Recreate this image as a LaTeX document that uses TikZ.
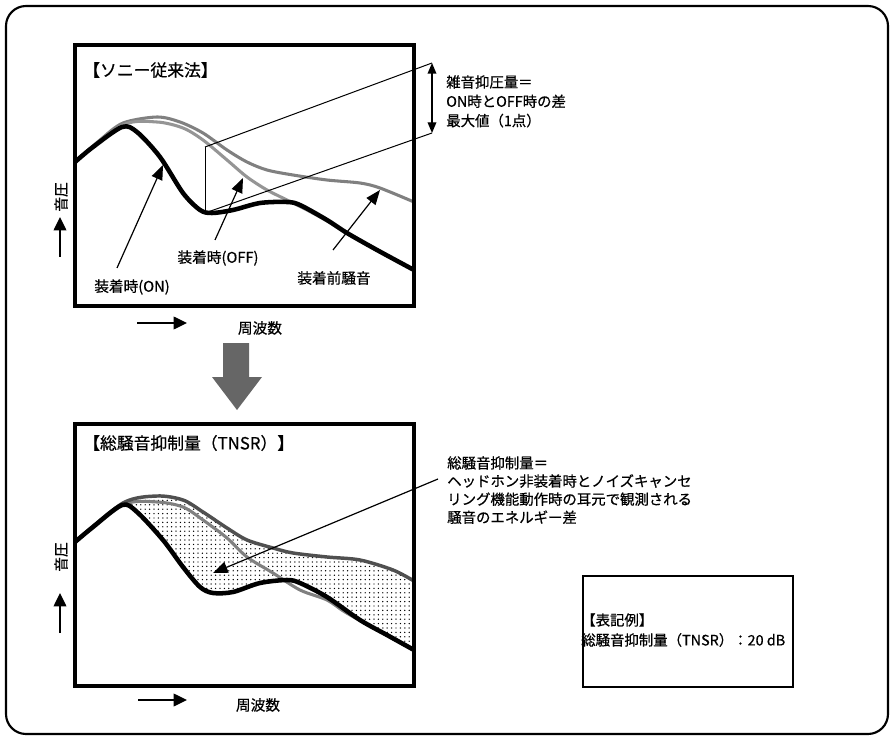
\documentclass[tikz,border=0pt]{standalone}
\usepackage{fontspec}
\setmainfont{Noto Sans CJK JP}[FakeBold=0.6]
\usetikzlibrary{arrows.meta,patterns.meta}
\definecolor{beforecol}{HTML}{808080}
\definecolor{offcol}{HTML}{959595}
\definecolor{beforecolB}{HTML}{505050}
\definecolor{offcolB}{HTML}{808080}
\definecolor{bigarrow}{HTML}{666666}
\tikzdeclarepattern{
  name=noisedots,
  type=uncolored,
  bottom left={(-1pt,-1pt)},
  top right={(1pt,1pt)},
  tile size={(3.3pt,3.3pt)},
  code={\fill (0pt,0pt) circle (0.55pt);}
}
\begin{document}
\begin{tikzpicture}[x=0.75pt,y=-0.75pt,
  frame/.style={line width=2.6pt},
  oncurve/.style={line width=3.4pt,black,line join=round},
  grayline/.style={line width=2.3pt,line join=round},
  thin/.style={line width=0.75pt},
  leader/.style={line width=0.9pt,-{Triangle[length=11pt,width=8.5pt]}},
  axisarrow/.style={line width=1.1pt,-{Triangle[length=10pt,width=9.5pt]}},
  dbl/.style={line width=1pt,{Triangle[length=8pt,width=6.5pt]}-{Triangle[length=8pt,width=6.5pt]}},
  lbl/.style={inner sep=0pt,font=\fontsize{11pt}{13pt}\selectfont},
  head/.style={inner sep=0pt,anchor=west,font=\fontsize{12.6pt}{14pt}\selectfont},
  note/.style={inner sep=0pt,anchor=north west,align=left},
]
\useasboundingbox (0,0) rectangle (893,738);
% outer frame
\draw[line width=1.6pt,rounded corners=15pt] (6,6) rectangle (888,734);

%================ TOP PANEL ================
\draw[grayline,beforecol] plot[smooth] coordinates {(75,162) (100,140) (123,123) (157,117) (180,122) (203,133) (227,150) (247,162) (267,170) (293,175) (327,180) (360,183) (380,188) (414,202)};
\draw[grayline,offcol] plot[smooth] coordinates {(75,162) (123,125) (157,122) (183,128) (203,140) (227,160) (247,177) (267,190) (287,200) (307,210) (327,221) (345,232) (377,250) (414,270)};
\draw[oncurve] plot[smooth] coordinates {(75,162) (93,147) (122,127) (137,132) (160,157) (183,193) (200,210) (212,213) (233,210) (260,203) (287,202) (300,205) (327,220) (347,233) (377,250) (414,270)};
\draw[frame] (75,45) rectangle (414,306);

\node[head] (title1) at (83,70) {【ソニー従来法】};

% difference lines
\coordinate (dTop) at (205,147);
\coordinate (dBot) at (205,213);
\coordinate (rTop) at (432,63);
\coordinate (rBot) at (432,133);
\draw[thin] (dTop) -- (dBot);
\draw[thin] (dTop) -- (rTop);
\draw[thin] (dBot) -- (rBot);
\draw[dbl] (rTop) -- (rBot);
\node[note,font=\fontsize{10.8pt}{14.5pt}\selectfont] (diffnote) at (446,75) {雑音抑圧量＝\\ON時とOFF時の差\\最大値（1点）};

% labels and leaders
\node[lbl] (onlbl) at (132,287) {装着時(ON)};
\node[lbl] (offlbl) at (218,258) {装着時(OFF)};
\node[lbl] (prelbl) at (334,278) {装着前騒音};
\coordinate (onTail) at (117,268);
\coordinate (onTip) at (163,165);
\coordinate (offTail) at (215,240);
\coordinate (offTip) at (243,178);
\coordinate (preTail) at (333,250);
\coordinate (preTip) at (380,190);
\draw[leader] (onTail) -- (onTip);
\draw[leader] (offTail) -- (offTip);
\draw[leader] (preTail) -- (preTip);

% axes
\node[lbl,rotate=90] (ylbl1) at (61,197) {音圧};
\coordinate (ya1) at (60,257);
\coordinate (yb1) at (60,217);
\draw[axisarrow] (ya1) -- (yb1);
\coordinate (xa1) at (137,323);
\coordinate (xb1) at (187,323);
\draw[axisarrow] (xa1) -- (xb1);
\node[lbl] (xlbl1) at (260,328) {周波数};

% big down arrow
\fill[bigarrow] (223,343) -- (249,343) -- (249,377) -- (262,377) -- (237,410) -- (212,377) -- (223,377) -- cycle;

%================ BOTTOM PANEL ================
\fill[pattern=noisedots] plot[smooth] coordinates {(75,542) (123,503) (157,496) (183,500) (203,512) (227,528) (247,540) (273,548) (293,553) (327,557) (360,560) (393,570) (414,581)}
 -- plot[smooth] coordinates {(414,650) (387,635) (360,620) (327,597) (300,583) (287,580) (260,583) (233,592) (213,593) (200,587) (183,567) (163,540) (137,512) (122,505) (93,527) (75,542)} -- cycle;
\draw[grayline,offcolB] plot[smooth] coordinates {(75,542) (123,505) (157,502) (183,507) (203,520) (227,538) (247,557) (273,573) (300,590) (327,600) (345,612) (377,630) (414,650)};
\draw[grayline,beforecolB,line width=2.6pt] plot[smooth] coordinates {(75,542) (123,503) (157,496) (183,500) (203,512) (227,528) (247,540) (273,548) (293,553) (327,557) (360,560) (393,570) (414,581)};
\draw[oncurve] plot[smooth] coordinates {(75,542) (93,527) (122,505) (137,512) (163,540) (183,567) (200,587) (213,593) (233,592) (260,583) (287,580) (300,583) (327,597) (360,620) (387,635) (414,650)};
\draw[frame] (75,424) rectangle (414,686);

\node[head] (title2) at (83,443) {【総騒音抑制量（TNSR）】};

\coordinate (tnsrTail) at (438,479);
\coordinate (tnsrTip) at (213,573);
\draw[leader] (tnsrTail) -- (tnsrTip);
\node[note,font=\fontsize{10.8pt}{13.6pt}\selectfont] (tnsrnote) at (447,456) {総騒音抑制量＝\\ヘッドホン非装着時とノイズキャンセ\\リング機能動作時の耳元で観測される\\騒音のエネルギー差};

% axes
\node[lbl,rotate=90] (ylbl2) at (61,557) {音圧};
\coordinate (ya2) at (60,633);
\coordinate (yb2) at (60,593);
\draw[axisarrow] (ya2) -- (yb2);
\coordinate (xa2) at (138,700);
\coordinate (xb2) at (187,700);
\draw[axisarrow] (xa2) -- (xb2);
\node[lbl] (xlbl2) at (258,705) {周波数};

% legend
\draw[line width=0.9pt] (583,576) rectangle (793,687);
\node[note,font=\fontsize{10.8pt}{15pt}\selectfont] (legend) at (581,613) {【表記例】\\総騒音抑制量（TNSR）：20 dB};
\end{tikzpicture}
\end{document}
